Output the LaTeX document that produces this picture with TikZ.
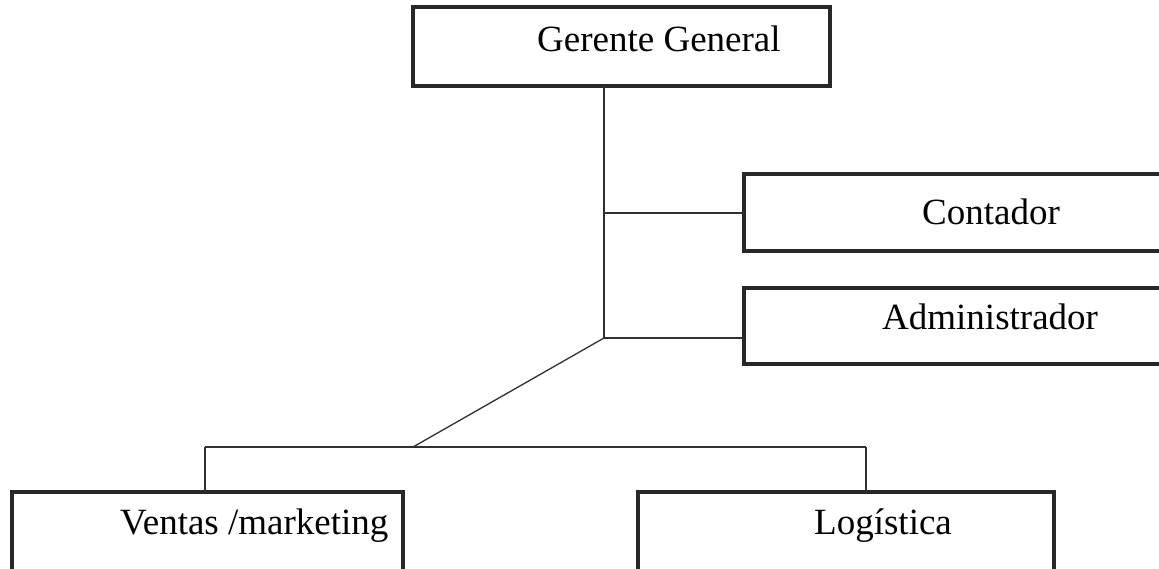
\documentclass[tikz,border=0pt]{standalone}
\usepackage{fontspec}
\setmainfont{Liberation Serif}
\definecolor{boxline}{HTML}{282828}
\definecolor{wire}{HTML}{303030}
\begin{document}
\begin{tikzpicture}[x=1pt,y=-1pt,
  orgbox/.style={draw=boxline, line width=3.6pt, inner sep=0pt, outer sep=0pt,
                 minimum width=#1, minimum height=78pt},
  orgbox/.default=417pt,
  title/.style={anchor=base west, inner sep=0pt, font=\fontsize{37}{40}\selectfont},
  wire/.style={draw=wire, line width=1.3pt},
  trunk/.style={draw=wire, line width=2.2pt}]
\useasboundingbox (0,0) rectangle (1159,569);
\clip (0,0) rectangle (1159,569);

% boxes (frames only; titles are set separately)
\node[orgbox, minimum height=79pt] (gg) at (621.5,46.5) {};
\node[orgbox, minimum height=77pt] (cont) at (952.5,212.5) {};
\node[orgbox, minimum height=76pt] (adm) at (952.5,326) {};
\node[orgbox=391pt, minimum height=79pt] (ven) at (207.5,531.5) {};
\node[orgbox=416pt, minimum height=79pt] (log) at (846,531.5) {};

% titles
\node[title] (gg-t) at (537,52) {Gerente General};
\node[title] (cont-t) at (922,225) {Contador};
\node[title] (adm-t) at (882,330) {Administrador};
\node[title] (ven-t) at (120,534) {Ventas /marketing};
\node[title] (log-t) at (814,534) {Logística};

% junction points of the connector tree
\coordinate (j1) at (604,213);
\coordinate (j2) at (604,338);
\coordinate (j3) at (413,447);
\coordinate (bl) at (205,447);
\coordinate (br) at (866,447);

% connectors
\draw[trunk] (j1 |- gg.south) -- (j1);
\draw[wire] (j1) -- (j2);
\draw[wire] (j1) -- (j1 -| cont.west);
\draw[wire] (j2) -- (j2 -| adm.west);
\draw[wire] (j2) -- (j3);
\draw[wire] (bl) -- (br);
\draw[wire] (bl) -- (bl |- ven.north);
\draw[wire] (br) -- (br |- log.north);
\end{tikzpicture}
\end{document}
